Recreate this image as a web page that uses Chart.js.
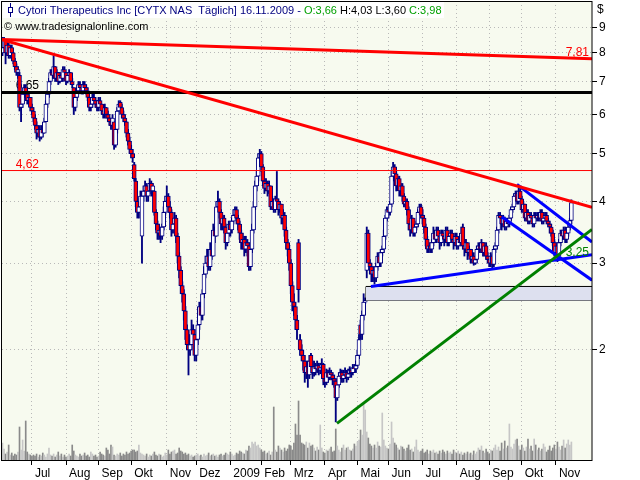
<!DOCTYPE html>
<html>
<head>
<meta charset="utf-8">
<script src="https://cdn.jsdelivr.net/npm/chart.js@4.4.1/dist/chart.umd.min.js"></script>
<style>
html,body{margin:0;padding:0;background:#ffffff;}
#wrap{width:640px;height:480px;position:relative;}
</style>
</head>
<body>
<div id="wrap"><canvas id="c" width="640" height="480" style="width:640px;height:480px"></canvas></div>
<script>
// ---- axis labels ----
const monthTicks  = [19,41,62,83,106,125,147,167,186,208,229,249,271,293,314,335,357];
const monthLabels = ['Jul','Aug','Sep','Okt','Nov','Dez','2009','Feb','Mrz','Apr','Mai','Jun','Jul','Aug','Sep','Okt','Nov'];
const priceTicks  = [2,3,4,5,6,7,8,9];

// ---- daily prices (trading days, Jun 2008 - 16.11.2009) ----
const close = [
8.2,8.5,8.0,8.3,7.9,8.2,8.0,7.7,7.5,7.3,
7.4,6.2,6.3,6.6,6.8,6.6,6.4,6.5,6.2,6.1,
5.9,5.7,5.5,5.6,5.4,5.6,5.5,5.8,6.3,6.6,
7.0,7.3,7.2,7.5,7.1,7.3,7.0,7.2,7.1,7.4,
7.3,7.0,7.2,7.3,7.0,6.9,6.2,6.5,6.7,6.9,
6.8,6.7,6.9,6.8,6.7,6.5,6.2,6.3,6.5,6.4,
6.3,6.2,6.4,6.3,6.1,6.0,6.2,6.0,5.9,5.8,
5.7,5.9,5.2,5.6,6.1,6.3,6.2,6.0,5.9,5.8,
5.5,5.3,5.1,5.0,4.9,4.45,4.0,3.8,3.9,4.1,
4.1,4.2,4.3,4.1,4.2,4.35,4.2,4.3,3.8,3.6,
3.45,3.5,3.4,3.55,3.8,4.0,4.1,3.9,3.8,3.5,
3.6,3.7,3.4,3.1,2.9,2.7,2.6,2.4,2.2,2.05,
2.0,2.05,2.2,2.15,1.95,2.1,2.25,2.45,2.35,2.6,
2.85,3.0,3.1,2.95,3.2,3.1,3.5,3.4,3.9,4.0,
3.8,3.6,3.7,3.55,3.3,3.45,3.6,3.5,3.65,3.75,
3.85,3.7,3.6,3.45,3.3,3.35,3.2,3.3,3.25,2.95,
3.2,3.5,3.9,4.3,4.5,4.9,5.0,4.7,4.4,4.25,
4.35,4.2,4.3,3.9,4.0,3.85,4.05,4.0,3.85,3.95,
3.7,3.75,3.5,3.3,3.2,3.0,2.7,2.5,2.45,2.3,
2.2,2.65,2.0,1.95,1.9,1.8,1.85,1.78,1.9,1.85,
1.8,1.85,1.83,1.86,1.82,1.84,1.87,1.75,1.72,1.8,
1.76,1.8,1.78,1.75,1.73,1.6,1.7,1.77,1.8,1.75,
1.78,1.8,1.76,1.79,1.82,1.8,1.84,1.83,1.86,1.95,
2.1,2.15,2.35,2.5,2.52,3.45,3.0,2.95,2.85,2.9,
2.8,2.95,3.1,3.0,3.15,3.2,3.4,3.7,3.85,3.8,
3.95,4.5,4.7,4.55,4.3,4.45,4.2,4.3,4.1,3.95,
4.0,3.85,3.6,3.5,3.7,3.45,3.55,3.6,3.8,3.9,
3.75,3.7,3.55,3.35,3.2,3.25,3.2,3.3,3.45,3.35,
3.5,3.4,3.3,3.45,3.4,3.35,3.5,3.3,3.4,3.45,
3.35,3.3,3.4,3.25,3.35,3.3,3.45,3.25,3.2,3.3,
3.15,3.2,3.05,3.1,3.0,3.05,3.2,3.25,3.2,3.3,
3.15,3.25,3.1,3.05,3.0,3.1,2.98,3.2,3.25,3.5,
3.75,3.7,3.6,3.7,3.55,3.65,3.6,3.7,3.85,3.9,
4.1,4.15,4.0,4.2,4.05,3.85,3.95,3.7,3.8,3.65,
3.75,3.7,3.6,3.75,3.7,3.75,3.7,3.8,3.65,3.7,
3.75,3.65,3.6,3.55,3.45,3.3,3.15,3.25,3.1,3.3,
3.45,3.4,3.5,3.35,3.45,3.55,3.66,3.98];

const open = [
8.0,8.2,8.5,8.0,8.3,7.9,8.2,8.0,7.7,7.5,
7.3,7.2,6.2,6.3,6.6,6.8,6.6,6.4,6.5,6.2,
6.1,5.9,5.7,5.5,5.6,5.4,5.6,5.5,5.8,6.3,
6.6,7.0,7.3,7.2,7.5,7.1,7.3,7.0,7.2,7.1,
7.4,7.3,7.0,7.2,7.3,7.0,6.8,6.2,6.5,6.7,
6.9,6.8,6.7,6.9,6.8,6.7,6.5,6.2,6.3,6.5,
6.4,6.3,6.2,6.4,6.3,6.1,6.0,6.2,6.0,5.9,
5.8,5.7,5.8,5.2,5.6,6.1,6.35,6.2,6.0,5.9,
5.8,5.5,5.3,5.1,5.0,4.75,4.4,4.0,3.8,3.9,
3.4,4.1,4.2,4.3,4.1,4.2,4.35,4.2,4.2,3.8,
3.6,3.45,3.5,3.4,3.55,3.8,4.0,4.1,3.9,3.8,
3.5,3.6,3.7,3.4,3.1,2.9,2.7,2.6,2.4,2.2,
2.05,2.0,2.05,2.2,2.15,1.95,2.1,2.25,2.45,2.35,
2.6,2.85,3.0,3.1,2.95,3.2,3.1,3.5,3.4,3.9,
4.0,3.8,3.6,3.7,3.55,3.3,3.45,3.6,3.5,3.65,
3.75,3.85,3.7,3.6,3.45,3.3,3.35,3.2,3.3,3.25,
2.95,3.2,3.5,3.9,4.3,4.5,4.9,5.0,4.7,4.4,
4.25,4.35,4.2,4.3,3.9,4.0,3.85,4.05,4.0,3.85,
3.95,3.7,3.75,3.5,3.3,3.2,3.0,2.7,2.5,2.45,
2.3,3.3,2.1,2.0,1.95,1.9,1.8,1.85,1.78,1.95,
1.85,1.8,1.85,1.83,1.86,1.82,1.84,1.87,1.75,1.72,
1.8,1.76,1.8,1.78,1.75,1.73,1.6,1.7,1.77,1.8,
1.75,1.78,1.8,1.76,1.79,1.82,1.8,1.84,1.83,1.86,
1.95,2.25,2.15,2.35,2.5,2.9,3.45,3.0,2.95,2.85,
2.9,2.8,2.95,3.1,3.0,3.15,3.2,3.4,3.7,3.85,
3.8,3.95,4.5,4.7,4.55,4.3,4.45,4.2,4.3,4.1,
3.95,4.0,3.85,3.6,3.5,3.7,3.45,3.55,3.6,3.8,
3.9,3.75,3.7,3.55,3.35,3.2,3.25,3.2,3.3,3.45,
3.35,3.5,3.4,3.3,3.45,3.4,3.35,3.5,3.3,3.4,
3.45,3.35,3.3,3.4,3.25,3.35,3.3,3.55,3.25,3.2,
3.3,3.15,3.2,3.05,3.1,3.0,3.05,3.2,3.25,3.2,
3.3,3.15,3.25,3.1,3.05,3.0,3.1,2.98,3.2,3.25,
3.5,3.75,3.7,3.6,3.7,3.55,3.65,3.6,3.7,3.85,
3.9,4.1,4.15,4.0,4.2,4.05,3.85,3.95,3.7,3.8,
3.65,3.75,3.7,3.6,3.75,3.7,3.75,3.7,3.8,3.65,
3.7,3.75,3.65,3.6,3.55,3.45,3.3,3.15,3.25,3.1,
3.3,3.45,3.4,3.5,3.35,3.45,3.55,3.66];

const high = [
8.6,8.6,8.5,8.4,8.4,8.3,8.3,8.0,7.8,7.6,
7.5,7.3,6.5,6.7,6.9,6.9,6.7,6.6,6.5,6.3,
6.2,6.0,5.8,5.7,5.7,5.7,5.7,5.9,6.4,6.7,
7.1,7.4,7.4,7.9,7.5,7.4,7.3,7.3,7.3,7.5,
7.5,7.3,7.3,7.4,7.3,7.1,6.8,6.6,6.8,7.0,
7.0,6.9,7.0,7.0,6.9,6.8,6.5,6.4,6.6,6.6,
6.5,6.4,6.5,6.5,6.3,6.2,6.3,6.2,6.1,6.0,
5.9,6.0,5.8,5.7,6.2,6.4,6.4,6.3,6.1,6.0,
5.8,5.6,5.4,5.2,5.1,4.8,4.45,4.05,4.0,4.2,
4.2,4.3,4.4,4.35,4.3,4.45,4.4,4.35,4.2,3.85,
3.65,3.6,3.55,3.6,3.9,4.1,4.3,4.15,4.0,3.85,
3.7,3.8,3.75,3.45,3.15,2.95,2.75,2.65,2.45,2.25,
2.15,2.15,2.3,2.25,2.2,2.15,2.3,2.5,2.5,2.65,
2.95,3.1,3.2,3.15,3.3,3.25,3.6,3.55,4.0,4.2,
4.05,3.85,3.75,3.75,3.6,3.5,3.65,3.65,3.7,3.85,
3.9,3.9,3.75,3.65,3.5,3.45,3.4,3.4,3.35,3.3,
3.3,3.6,4.0,4.4,4.6,5.0,5.1,5.05,4.75,4.45,
4.45,4.4,4.4,4.3,4.1,4.05,4.1,4.6,4.05,4.0,
3.95,3.85,3.8,3.55,3.35,3.25,3.05,2.75,2.6,2.5,
2.35,3.35,2.15,2.05,2.0,1.95,1.9,1.9,1.95,1.97,
1.9,1.9,1.88,1.9,1.88,1.88,1.92,1.88,1.78,1.83,
1.82,1.84,1.82,1.8,1.78,1.75,1.75,1.8,1.83,1.82,
1.82,1.84,1.82,1.83,1.85,1.84,1.87,1.87,1.9,2.0,
2.15,2.3,2.4,2.6,2.55,3.55,3.5,3.05,3.0,2.95,
2.95,3.0,3.15,3.15,3.2,3.25,3.5,3.75,3.9,3.9,
4.0,4.6,4.8,4.75,4.6,4.5,4.5,4.35,4.35,4.15,
4.05,4.05,3.9,3.65,3.75,3.7,3.6,3.65,3.85,3.95,
3.95,3.85,3.75,3.6,3.4,3.3,3.3,3.35,3.55,3.5,
3.55,3.55,3.45,3.5,3.5,3.45,3.55,3.55,3.45,3.5,
3.5,3.4,3.45,3.45,3.4,3.4,3.55,3.6,3.3,3.35,
3.3,3.25,3.2,3.15,3.15,3.1,3.25,3.3,3.3,3.35,
3.3,3.3,3.3,3.15,3.1,3.15,3.12,3.25,3.3,3.55,
3.8,3.8,3.75,3.75,3.72,3.7,3.7,3.75,3.9,3.95,
4.15,4.2,4.2,4.3,4.25,4.1,4.0,3.95,3.85,3.85,
3.8,3.8,3.75,3.8,3.8,3.8,3.8,3.85,3.85,3.75,
3.8,3.8,3.7,3.65,3.6,3.5,3.35,3.3,3.3,3.35,
3.5,3.5,3.55,3.55,3.5,3.6,3.7,4.03];

const low = [
7.9,8.1,7.6,7.9,7.8,7.8,7.9,7.6,7.4,7.2,
7.1,6.1,5.8,6.2,6.5,6.5,6.3,6.3,6.1,6.0,
5.8,5.6,5.35,5.4,5.3,5.35,5.4,5.5,5.8,6.2,
6.5,6.9,7.1,7.1,7.0,7.0,6.9,6.95,7.0,7.0,
7.2,6.9,6.95,7.1,6.9,6.8,6.0,6.1,6.4,6.6,
6.7,6.6,6.6,6.7,6.6,6.4,6.1,6.1,6.2,6.3,
6.2,6.1,6.1,6.2,6.0,5.9,5.9,5.9,5.8,5.7,
5.6,5.6,5.1,5.15,5.5,6.0,6.1,5.9,5.8,5.7,
5.4,5.2,5.0,4.9,4.8,4.4,3.9,3.7,3.7,3.8,
3.0,4.0,4.1,4.0,4.0,4.15,4.1,4.1,3.75,3.5,
3.35,3.35,3.3,3.35,3.5,3.75,3.9,3.8,3.7,3.4,
3.45,3.55,3.3,3.0,2.8,2.6,2.5,2.3,2.1,2.0,
1.78,1.95,2.0,2.05,1.9,1.9,2.05,2.2,2.3,2.3,
2.55,2.8,2.95,2.9,2.9,3.05,3.1,3.3,3.4,3.85,
3.7,3.5,3.5,3.45,3.2,3.25,3.4,3.4,3.45,3.6,
3.7,3.6,3.5,3.35,3.2,3.2,3.1,3.15,3.1,2.9,
2.9,3.15,3.45,3.85,4.2,4.4,4.8,4.6,4.3,4.15,
4.2,4.1,4.15,3.85,3.85,3.8,3.8,3.9,3.75,3.8,
3.6,3.6,3.4,3.2,3.1,2.9,2.6,2.4,2.35,2.2,
2.1,2.5,1.95,1.9,1.82,1.72,1.75,1.68,1.75,1.8,
1.75,1.77,1.78,1.8,1.78,1.79,1.82,1.7,1.68,1.7,
1.72,1.74,1.74,1.7,1.68,1.43,1.58,1.68,1.74,1.72,
1.72,1.75,1.72,1.74,1.76,1.76,1.78,1.8,1.8,1.84,
1.92,2.1,2.1,2.3,2.48,2.8,2.95,2.85,2.75,2.75,
2.72,2.75,2.9,2.95,2.95,3.1,3.15,3.35,3.65,3.7,
3.75,3.9,4.4,4.45,4.2,4.25,4.1,4.1,4.0,3.9,
3.9,3.75,3.5,3.4,3.45,3.4,3.4,3.5,3.55,3.75,
3.7,3.6,3.45,3.25,3.15,3.15,3.15,3.15,3.25,3.3,
3.3,3.35,3.2,3.25,3.3,3.25,3.3,3.25,3.25,3.35,
3.3,3.2,3.25,3.2,3.2,3.25,3.25,3.2,3.1,3.15,
3.05,3.1,3.0,3.0,2.97,2.98,3.0,3.15,3.15,3.15,
3.1,3.1,3.05,3.0,2.95,2.95,2.92,2.95,3.15,3.2,
3.45,3.6,3.5,3.55,3.5,3.5,3.55,3.55,3.65,3.8,
3.85,4.0,3.95,3.95,4.0,3.8,3.8,3.65,3.65,3.6,
3.6,3.65,3.55,3.55,3.65,3.65,3.65,3.65,3.6,3.6,
3.65,3.6,3.55,3.45,3.4,3.25,3.1,3.1,3.02,3.05,
3.25,3.35,3.35,3.3,3.3,3.4,3.5,3.60];

// ---- daily volume (relative units) ----
const volume = [
17,11,6,8,15,5,7,4,6,5,8,33,10,20,9,39,8,6,5,4,
5,4,6,3,5,4,7,5,3,6,12,5,4,6,3,5,8,4,6,3,
5,3,4,6,4,15,9,5,4,3,6,4,5,7,4,5,3,8,6,4,
5,3,4,8,6,5,4,12,10,6,15,13,5,4,6,5,7,4,6,5,
8,6,7,9,10,10,8,9,15,7,6,5,4,6,3,5,4,6,8,5,
4,6,5,3,4,7,5,10,6,8,9,10,6,7,12,9,8,6,7,5,
6,4,5,3,4,5,6,4,5,3,6,4,5,7,4,5,6,4,5,3,
5,6,4,5,7,6,5,8,6,4,5,7,6,9,8,7,6,10,9,14,
12,18,16,18,14,15,12,10,8,9,6,7,9,5,8,53,10,8,14,12,
10,8,12,9,11,15,14,10,17,36,25,59,25,17,16,15,18,12,17,14,
15,12,9,13,10,35,12,8,7,10,9,11,13,8,9,31,14,10,8,12,
15,10,12,13,10,9,11,16,14,18,20,30,25,57,50,28,22,16,14,12,
15,12,18,14,13,47,20,14,12,11,16,38,22,17,15,12,10,14,13,11,
9,12,15,10,11,8,13,20,10,8,9,11,7,8,10,6,9,8,10,7,
8,6,9,7,10,8,6,9,7,8,6,10,8,7,9,6,8,5,7,6,
8,6,7,5,9,6,8,12,10,14,9,7,11,8,6,10,9,12,15,10,
13,9,17,11,19,12,14,36,13,11,16,20,21,14,10,15,12,9,13,21,
11,14,9,21,15,10,12,9,11,16,13,8,10,14,9,12,15,11,18,13,
10,14,20,12,16,20,15,18];

// ---- drawn studies (day index, price) ----
const trendUpperRed   = [{x:-0.3, y:8.51}, {x:380.3, y:7.78}];
const trendFallingRed = [{x:-0.3, y:8.51}, {x:380.3, y:3.89}];
const levelBlack      = 6.65;
const levelRed        = 4.62;
const supportBlue     = [{x:237.7, y:2.69}, {x:380.3, y:3.12}];
const channelBlueHigh = [{x:331.9, y:4.33}, {x:380.3, y:3.31}];
const channelBlueLow  = [{x:322.2, y:3.72}, {x:380.3, y:2.77}];
const trendGreen      = [{x:215.8, y:1.42}, {x:380.3, y:3.51}];
const gapZone         = {from:234.5, to:380.3, top:2.69, bottom:2.52};
const xRange          = {min:-0.3, max:380.3};
const yRange          = {min:1.197, max:10.19};

const idx = close.map((_, i) => i);
const isDown = i => close[i] < open[i];
const fmt = v => v.toFixed(2).replace('.', ',');
const last = close.length - 1;
const FONT = '"Liberation Sans", Arial, sans-serif';

const flatLine = v => [{x:xRange.min, y:v}, {x:xRange.max, y:v}];
const lineDs = (data, color, width, order) => ({
  type:'line', data, borderColor:color, borderWidth:width, pointRadius:0,
  fill:false, tension:0, order, yAxisID:'y', xAxisID:'x'
});

const decor = {
  id:'decor',
  beforeDraw(chart){
    const {ctx, chartArea:a} = chart;
    ctx.save();
    ctx.fillStyle = '#f7faef';
    ctx.fillRect(a.left, a.top, a.right - a.left, a.bottom - a.top);
    ctx.restore();
  },
  beforeDatasetsDraw(chart){
    const {ctx, scales:{x, y}} = chart;
    ctx.save();
    ctx.font = '12px ' + FONT;
    ctx.textBaseline = 'alphabetic';
    ctx.textAlign = 'left';
    ctx.fillStyle = '#000000';
    ctx.fillText(fmt(levelBlack), x.getPixelForValue(8.5), y.getPixelForValue(levelBlack) - 3);
    ctx.fillStyle = '#ff0000';
    ctx.fillText(fmt(levelRed), x.getPixelForValue(8.5), y.getPixelForValue(levelRed) - 3);
    ctx.restore();
  },
  afterDraw(chart){
    const {ctx, chartArea:a, scales:{y}} = chart;
    ctx.save();
    // frame
    ctx.strokeStyle = '#000000';
    ctx.lineWidth = 1;
    ctx.strokeRect(a.left - 0.5, a.top + 0.5, a.right - a.left + 0.5, a.bottom - a.top);
    // right-side line labels
    ctx.font = '12px ' + FONT;
    ctx.textAlign = 'right';
    ctx.textBaseline = 'alphabetic';
    ctx.fillStyle = '#ff0000';
    ctx.fillText('7,81', a.right - 3, y.getPixelForValue(trendUpperRed[1].y) - 3);
    ctx.fillStyle = '#008000';
    ctx.textBaseline = 'top';
    ctx.fillText('3,25', a.right - 3, y.getPixelForValue(3.25) + 1);
    // currency
    ctx.fillStyle = '#000000';
    ctx.textAlign = 'left';
    ctx.fillText('$', a.right + 5, 4);
    // title line
    ctx.font = '11px ' + FONT;
    const parts = [
      ['Cytori Therapeutics Inc [CYTX NAS  T\u00e4glich] 16.11.2009 - ', '#000080'],
      ['O:' + fmt(open[last]), '#00a000'],
      [' H:' + fmt(high[last]) + ' L:' + fmt(low[last]) + ' ', '#000000'],
      ['C:' + fmt(close[last]), '#00a000']
    ];
    let w = 0; parts.forEach(p => w += ctx.measureText(p[0]).width);
    ctx.fillStyle = '#ffffff';
    ctx.fillRect(a.left + 0.5, a.top + 1, 16 + w + 2, 16);
    // candle icon
    ctx.strokeStyle = '#000080';
    ctx.beginPath(); ctx.moveTo(10.5, 3); ctx.lineTo(10.5, 17); ctx.stroke();
    ctx.fillStyle = '#ffffff';
    ctx.fillRect(8.5, 7.5, 4, 5);
    ctx.strokeRect(8.5, 7.5, 4, 5);
    let px = 18;
    ctx.textBaseline = 'alphabetic';
    parts.forEach(p => { ctx.fillStyle = p[1]; ctx.fillText(p[0], px, 14); px += ctx.measureText(p[0]).width; });
    ctx.fillStyle = '#000000';
    ctx.fillText('\u00a9 www.tradesignalonline.com', 4, 30);
    ctx.restore();
  }
};

new Chart(document.getElementById('c'), {
  type:'bar',
  data:{
    datasets:[
      lineDs(trendUpperRed, '#ff0000', 3, 1),
      lineDs(trendFallingRed, '#ff0000', 3, 1),
      lineDs(flatLine(levelBlack), '#000000', 3, 1),
      lineDs(flatLine(levelRed), '#ff0000', 1, 2),
      lineDs(supportBlue, '#0000ff', 3, 1),
      lineDs(channelBlueHigh, '#0000ff', 3, 1),
      lineDs(channelBlueLow, '#0000ff', 3, 1),
      lineDs(trendGreen, '#008000', 3, 0),
      { type:'line', data:[{x:gapZone.from, y:gapZone.top},{x:gapZone.to, y:gapZone.top}],
        borderColor:'#000000', borderWidth:1, pointRadius:0, fill:'+1', backgroundColor:'#dde0ef', order:3, yAxisID:'y' },
      { type:'line', data:[{x:gapZone.from, y:gapZone.bottom},{x:gapZone.to, y:gapZone.bottom}],
        borderColor:'#000000', borderWidth:1, pointRadius:0, fill:false, order:3, yAxisID:'y' },
      { type:'line', data:[{x:gapZone.from, y:gapZone.bottom},{x:gapZone.from, y:gapZone.top}],
        borderColor:'#000000', borderWidth:1, pointRadius:0, fill:false, order:3, yAxisID:'y' },
      { type:'bar', data: idx.map(i => ({x:i, y:[open[i], close[i]]})), yAxisID:'y',
        barThickness:4, grouped:false, borderSkipped:false,
        backgroundColor: idx.map(i => isDown(i) ? '#ff0000' : '#ffffff'),
        borderColor:'#000080', borderWidth:1, order:5 },
      { type:'bar', data: idx.map(i => ({x:i, y:[low[i], high[i]]})), yAxisID:'y',
        barThickness:1.2, grouped:false, borderSkipped:false,
        backgroundColor:'#000080', borderWidth:0, order:6 },
      { type:'bar', data: idx.map(i => ({x:i, y:volume[i]})), yAxisID:'yv',
        barThickness:1, grouped:false,
        backgroundColor: idx.map(i => isDown(i) ? '#8a8a8a' : '#c6c6c6'), borderWidth:0, order:9 }
    ]
  },
  options:{
    responsive:false, devicePixelRatio:1, animation:false,
    layout:{padding:{top:1, left:2, right:0, bottom:0}},
    plugins:{legend:{display:false}, tooltip:{enabled:false}, title:{display:false}},
    scales:{
      x:{
        type:'linear', min:xRange.min, max:xRange.max, offset:false, position:'bottom',
        afterBuildTicks: s => { s.ticks = monthTicks.map(v => ({value:v})); },
        afterFit: s => { s.height = 20; s.paddingLeft = 0; s.paddingRight = 0; },
        ticks:{autoSkip:false, maxRotation:0, minRotation:0, align:'start', labelOffset:3, padding:1,
          color:'#000000', font:{family:FONT, size:12},
          callback: v => { const k = monthTicks.indexOf(v); return k >= 0 ? monthLabels[k] : ''; }},
        grid:{color:'#b9b9b9', offset:false, tickLength:5, tickColor:'#000000', tickWidth:1},
        border:{display:false, dash:[1,3]}
      },
      y:{
        type:'logarithmic', position:'right', min:yRange.min, max:yRange.max,
        afterBuildTicks: s => { s.ticks = priceTicks.map(v => ({value:v})); },
        afterFit: s => { s.width = 48; s.paddingTop = 0; s.paddingBottom = 0; },
        ticks:{color:'#000000', padding:2, font:{family:FONT, size:12}, callback: v => String(v)},
        grid:{color:'#b9b9b9', tickLength:5, tickColor:'#000000', tickWidth:1},
        border:{display:false, dash:[1,3]}
      },
      yv:{type:'linear', display:false, min:0, max:459, grid:{display:false}}
    }
  },
  plugins:[decor]
});
</script>
</body>
</html>
